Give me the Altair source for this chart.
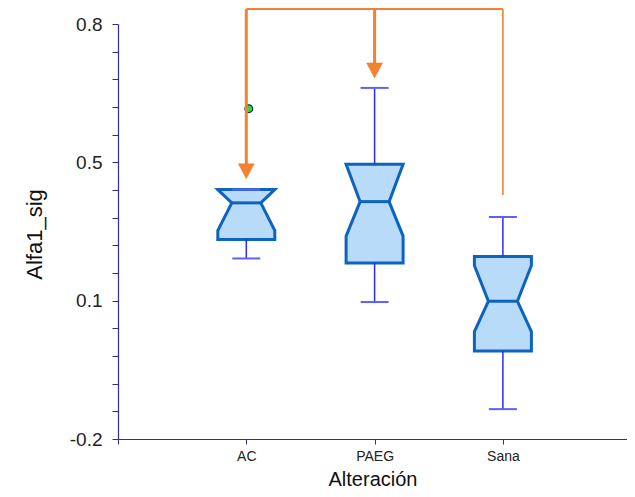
import altair as alt
import pandas as pd

# ---- data ----
categories = ["AC", "PAEG", "Sana"]
whisker_low = [0.235, 0.130, -0.128]
q1 = [0.281, 0.224, 0.012]
notch_low = [0.302, 0.289, 0.059]
median = [0.369, 0.372, 0.132]
notch_high = [0.401, 0.462, 0.218]
q3 = [0.401, 0.462, 0.240]
whisker_high = [0.401, 0.646, 0.335]

outlier_cat = ["AC"]
outlier_val = [0.596]

y_tick_labels = ["-0.2", "0.1", "0.5", "0.8"]

# orange annotation bracket
bracket_cats = ["AC", "PAEG", "Sana"]
bracket_top = 0.836
bracket_leg_end = [0.46, 0.70, 0.388]
arrow_cats = ["AC", "PAEG"]
arrow_tips = [0.427, 0.670]

# ---- styling constants ----
PX_PER_UNIT = 128.3
PLOT_W = 509
PLOT_H = 415
BOX_HALF = 28.5 / PX_PER_UNIT
MED_HALF = 14.5 / PX_PER_UNIT
CAP_HALF = 14.0 / PX_PER_UNIT
FONT = "Liberation Sans"
AXIS_COLOR = "#2E2E9E"
ORANGE = "#F08232"

pos = {c: i + 1 for i, c in enumerate(categories)}

# box polygon table
poly_rows = []
for i, c in enumerate(categories):
    pts = [(q1[i], BOX_HALF), (notch_low[i], BOX_HALF), (median[i], MED_HALF),
           (notch_high[i], BOX_HALF), (q3[i], BOX_HALF)]
    seen = set()
    for yv, h in pts:
        if yv in seen:
            continue
        seen.add(yv)
        poly_rows.append({"cat": c, "y": yv, "xl": pos[c] - h, "xr": pos[c] + h})
poly = pd.DataFrame(poly_rows)

stats = pd.DataFrame({
    "cat": categories,
    "x": [pos[c] for c in categories],
    "wl": whisker_low, "q1": q1, "med": median, "q3": q3, "wh": whisker_high,
})
stats["ml"] = stats["x"] - MED_HALF
stats["mr"] = stats["x"] + MED_HALF
stats["cl"] = stats["x"] - CAP_HALF
stats["cr"] = stats["x"] + CAP_HALF

outl = pd.DataFrame({"x": [pos[c] for c in outlier_cat], "v": outlier_val})

legs = pd.DataFrame({"x": [pos[c] for c in bracket_cats],
                     "top": [bracket_top] * len(bracket_cats),
                     "end": bracket_leg_end})
top_line = pd.DataFrame({"x": [pos[bracket_cats[0]]], "x2": [pos[bracket_cats[-1]]],
                         "y": [bracket_top]})
arrows = pd.DataFrame({"x": [pos[c] for c in arrow_cats], "y": arrow_tips})

# ---- scales & axes ----
xscale = alt.Scale(domain=[0, PLOT_W / PX_PER_UNIT], nice=False, zero=False)
yscale = alt.Scale(domain=[-0.2, 0.8], nice=False, zero=False)

x_label_expr = "[''," + ",".join("'%s'" % c for c in categories) + "][datum.value]"
xaxis = alt.Axis(
    values=[0, 1, 2, 3], labelExpr=x_label_expr, grid=False,
    title="Alteración", titleFont=FONT, titleFontSize=20, titleFontWeight="normal",
    titleColor="#111", titleBaseline="bottom", titleY=50,
    labelFont=FONT, labelFontSize=14, labelColor="#222", labelPadding=5,
    tickSize=5, tickColor=AXIS_COLOR, domainColor=AXIS_COLOR, domainWidth=1.2,
)
y_label_expr = ("round((datum.value + 0.2) * 15) % 5 == 0 ? ["
                + ",".join("'%s'" % t for t in y_tick_labels)
                + "][round((datum.value + 0.2) * 3)] : ''")
yaxis = alt.Axis(
    values=[-0.2 + k / 15 for k in range(16)], labelExpr=y_label_expr, grid=False,
    title="Alfa1_sig", titleFont=FONT, titleFontSize=22, titleFontWeight="normal",
    titleColor="#111", titleAngle=270, titleX=-84, titleY=210,
    titleAlign="center", titleBaseline="middle",
    labelFont=FONT, labelFontSize=19, labelColor="#222", labelPadding=10,
    tickSize=6, tickColor=AXIS_COLOR, domainColor=AXIS_COLOR, domainWidth=1.2,
)

def X(f):
    return alt.X(f, type="quantitative", scale=xscale, axis=xaxis)

def Y(f):
    return alt.Y(f, type="quantitative", scale=yscale, axis=yaxis)

box = alt.Chart(poly).mark_area(
    orient="horizontal", fill="#B8DBFA", stroke="#0D63BE", strokeWidth=3,
    strokeJoin="miter"
).encode(y=Y("y"), x=X("xl"), x2=alt.X2("xr"), detail="cat:N")

med = alt.Chart(stats).mark_rule(color="#0D63BE", strokeWidth=3).encode(
    x=X("ml"), x2=alt.X2("mr"), y=Y("med"))

wh_up = alt.Chart(stats).mark_rule(color="#2A2AF5", strokeWidth=1.5).encode(
    x=X("x"), y=Y("q3"), y2=alt.Y2("wh"))
wh_lo = alt.Chart(stats).mark_rule(color="#2A2AF5", strokeWidth=1.5).encode(
    x=X("x"), y=Y("wl"), y2=alt.Y2("q1"))
cap_up = alt.Chart(stats).mark_rule(color="#6060F5", strokeWidth=2).encode(
    x=X("cl"), x2=alt.X2("cr"), y=Y("wh"))
cap_lo = alt.Chart(stats).mark_rule(color="#6060F5", strokeWidth=2).encode(
    x=X("cl"), x2=alt.X2("cr"), y=Y("wl"))

out_pts = alt.Chart(outl).mark_point(
    shape="circle", filled=True, fill="#2EE02E", stroke="#1A237E",
    strokeWidth=1.2, size=60, opacity=1, xOffset=2.5
).encode(x=X("x"), y=Y("v"))

top = alt.Chart(top_line).mark_rule(color=ORANGE, strokeWidth=2).encode(
    x=X("x"), x2=alt.X2("x2"), y=Y("y"))
legs_thick = alt.Chart(legs.iloc[:2]).mark_rule(color=ORANGE, strokeWidth=3).encode(
    x=X("x"), y=Y("top"), y2=alt.Y2("end"))
legs_thin = alt.Chart(legs.iloc[2:]).mark_rule(color=ORANGE, strokeWidth=1.6).encode(
    x=X("x"), y=Y("top"), y2=alt.Y2("end"))
heads = alt.Chart(arrows).mark_point(
    shape="M-1,-0.94L1,-0.94L0,0.94Z", filled=True, fill=ORANGE, stroke=ORANGE,
    strokeWidth=0.5, size=256, opacity=1, yOffset=-7.5
).encode(x=X("x"), y=Y("y"))

chart = alt.layer(
    box, med, wh_up, wh_lo, cap_up, cap_lo, out_pts, top, legs_thick, legs_thin, heads
).properties(
    width=PLOT_W, height=PLOT_H,
    autosize=alt.AutoSizeParams(type="none"),
    padding={"left": 110, "top": 16, "right": 0, "bottom": 50},
    background="white",
).configure_view(stroke=None)

chart.save("out.html", embed_options={"renderer": "svg", "actions": False})
